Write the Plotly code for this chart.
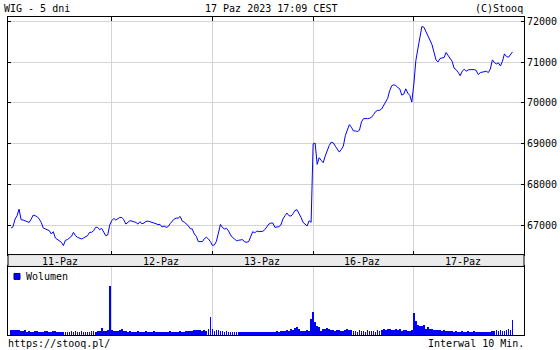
import plotly.graph_objects as go

# ---------------- data ----------------
days = ["11-Paz", "12-Paz", "13-Paz", "16-Paz", "17-Paz"]
y_ticks = [67000, 68000, 69000, 70000, 71000, 72000]

price_d1 = [66943, 66976, 67162, 67243, 67405, 67146, 67138, 67121, 67097, 67081,
            67162, 67259, 67243, 67219, 67162, 67081, 66943, 66927, 66911, 66879,
            66798, 66854, 66700, 66660, 66636, 66595, 66514, 66644, 66660, 66692,
            66741, 66838, 66757, 66717, 66692, 66676, 66700, 66725, 66757, 66838,
            66838, 66879, 66960, 66960, 66903, 66935, 66854, 66757, 66773, 67016]
price_d2 = [67121, 67178, 67138, 67162, 67202, 67202, 67146, 67040, 67081, 67121,
            67113, 67105, 67081, 67040, 67097, 67049, 67065, 67105, 67113, 67097,
            67081, 67081, 67049, 67024, 67032, 66968, 66992, 66960, 66976, 67049,
            67121, 67162, 67186, 67186, 67227, 67113, 67089, 67049, 67000, 66927,
            66919, 66798, 66741, 66611, 66611, 66611, 66684, 66717, 66676, 66611]
price_d3 = [66515, 66531, 66620, 66863, 67033, 66952, 66920, 66936, 66871, 66774,
            66709, 66677, 66628, 66644, 66660, 66660, 66604, 66596, 66612, 66758,
            66855, 66822, 66871, 66855, 66855, 66863, 66903, 66960, 67041, 67065,
            67065, 66960, 66976, 66976, 67017, 67163, 67244, 67309, 67244, 67236,
            67292, 67373, 67389, 67300, 67203, 67082, 67025, 66993, 67122, 67082]
price_d4 = [69002, 69018, 68500, 68662, 68597, 68540, 68703, 68840, 68962, 69043,
            69026, 68946, 68881, 68800, 68865, 68946, 69205, 69326, 69472, 69407,
            69318, 69318, 69302, 69334, 69537, 69618, 69610, 69618, 69626, 69650,
            69715, 69788, 69820, 69820, 69853, 69934, 69998, 70112, 70298, 70420,
            70444, 70428, 70379, 70347, 70193, 70217, 70347, 70242, 70185, 70023]
price_d5 = [70465, 71037, 71323, 71625, 71869, 71853, 71755, 71649, 71543, 71429,
            71241, 71053, 71004, 71086, 71102, 71110, 71233, 71159, 71102, 71020,
            70849, 70816, 70751, 70669, 70776, 70824, 70776, 70808, 70816, 70816,
            70816, 70792, 70694, 70743, 70751, 70751, 70776, 70743, 70833, 71053,
            70988, 70955, 70980, 70906, 71020, 71200, 71135, 71118, 71184, 71249]

vol_d1 = [5, 5, 5, 5, 5, 4, 4, 5, 3, 4, 3, 3, 4, 4, 3, 3, 3, 4, 4, 3, 3, 4, 4, 3, 3,
          3, 3, 3, 3, 3, 4, 3, 4, 3, 3, 4, 3, 3, 3, 3, 4, 4, 3, 4, 4, 7, 4, 4, 5, 49]
vol_d2 = [5, 4, 4, 4, 5, 6, 4, 4, 3, 4, 3, 3, 3, 4, 3, 3, 3, 4, 3, 3, 3, 4, 3, 3, 3,
          3, 3, 3, 3, 4, 3, 3, 3, 3, 4, 3, 3, 4, 4, 4, 4, 5, 5, 5, 5, 4, 5, 4, 6, 18]
vol_d3 = [6, 4, 5, 5, 4, 4, 3, 4, 3, 3, 3, 3, 3, 3, 3, 3, 3, 3, 3, 3, 3, 3, 3, 3, 3,
          3, 3, 3, 3, 3, 3, 3, 4, 3, 4, 4, 4, 5, 4, 6, 5, 7, 8, 6, 4, 4, 4, 5, 4, 16]
vol_d4 = [23, 13, 9, 8, 4, 6, 6, 7, 6, 5, 5, 4, 5, 5, 4, 4, 5, 6, 5, 5, 4, 4, 3, 5, 4,
          4, 3, 5, 4, 4, 4, 3, 5, 4, 5, 6, 5, 6, 6, 5, 5, 6, 5, 6, 4, 5, 5, 4, 4, 5]
vol_d5 = [22, 14, 10, 9, 9, 10, 6, 8, 6, 6, 5, 5, 5, 5, 4, 5, 4, 4, 4, 4, 3, 4, 3, 3, 4,
          3, 3, 4, 3, 3, 4, 3, 3, 3, 3, 3, 3, 3, 3, 4, 4, 5, 4, 5, 4, 4, 5, 6, 5, 15]

price = price_d1 + price_d2 + price_d3 + price_d4 + price_d5
volume = vol_d1 + vol_d2 + vol_d3 + vol_d4 + vol_d5
idx = list(range(len(price)))
per_day = len(price_d1)
day_starts = [per_day * k for k in range(1, len(days))]
day_centers = [per_day * k + (per_day - 1) / 2 for k in range(len(days))]

# ---------------- layout helpers ----------------
W, H = 560, 350
def px(x):
    return x / W
def py(y):
    return 1 - y / H

FONT = "DejaVu Sans Mono"
GRID = "#d4d4d4"
BLUE = "#0000ff"

fig = go.Figure()
fig.add_trace(go.Scatter(x=idx, y=price, mode="lines", line=dict(color=BLUE, width=1),
                         xaxis="x", yaxis="y", showlegend=False, hoverinfo="skip"))
fig.add_trace(go.Bar(x=idx, y=volume, width=0.4, marker=dict(color=BLUE, line_width=0),
                     xaxis="x2", yaxis="y2", showlegend=False, hoverinfo="skip"))

xdom = [px(8), px(524)]
xrange_ = [-1.5, 254.7]

fig.update_layout(
    width=W, height=H, autosize=False,
    margin=dict(l=0, r=0, t=0, b=0, pad=0),
    paper_bgcolor="white", plot_bgcolor="white",
    font=dict(family=FONT, size=10, color="black"),
    bargap=0.6,
    xaxis=dict(domain=xdom, range=xrange_, anchor="y", tickvals=day_starts,
               showticklabels=False, ticks="inside", ticklen=4, tickcolor="black",
               showline=True, linecolor="black", linewidth=1, mirror="ticks",
               showgrid=True, gridcolor=GRID, gridwidth=1, zeroline=False, fixedrange=True),
    yaxis=dict(domain=[py(254), py(15.5)], range=[66295, 72092], anchor="x", side="right",
               tickvals=y_ticks, ticktext=[str(v) for v in y_ticks],
               ticks="inside", ticklen=3, tickcolor="black",
               showline=True, linecolor="black", linewidth=1, mirror="ticks",
               showgrid=True, gridcolor=GRID, gridwidth=1, zeroline=False,
               tickfont=dict(family=FONT, size=10, color="black"), fixedrange=True),
    xaxis2=dict(domain=xdom, range=xrange_, anchor="y2", tickvals=day_starts,
                showticklabels=False, ticks="", showline=True, linecolor="black",
                linewidth=1, mirror=True, showgrid=True, gridcolor=GRID, gridwidth=1,
                zeroline=False, fixedrange=True),
    yaxis2=dict(domain=[py(335), py(266)], range=[0, 68.5], anchor="x2",
                showticklabels=False, ticks="", showline=True, linecolor="black",
                linewidth=1, mirror=True, showgrid=False, zeroline=False, fixedrange=True),
)

shapes = [
    dict(type="rect", xref="paper", yref="paper", x0=px(8), x1=px(524),
         y0=py(266), y1=py(254), fillcolor="#ebebeb", line=dict(color="black", width=1),
         layer="above"),
    dict(type="rect", xref="paper", yref="paper", x0=px(14), x1=px(20),
         y0=py(279), y1=py(273), fillcolor=BLUE, line=dict(color="#000080", width=1)),
]
fig.update_layout(shapes=shapes)

ann = []
for d, c in zip(days, day_centers):
    ann.append(dict(x=c, xref="x", y=py(260.5), yref="paper", text=d, showarrow=False,
                    xanchor="center", yanchor="middle", font=dict(family=FONT, size=10)))
ann += [
    dict(x=px(2), y=py(7), text="WIG - 5 dni", xanchor="left"),
    dict(x=px(271), y=py(7), text="17 Paz 2023 17:09 CEST", xanchor="center"),
    dict(x=px(525), y=py(7), text="(C)Stooq", xanchor="right"),
    dict(x=px(24), y=py(276), text="Wolumen", xanchor="left"),
    dict(x=px(6), y=py(343), text="https://stooq.pl/", xanchor="left"),
    dict(x=px(526), y=py(343), text="Interwal 10 Min.", xanchor="right"),
]
for a in ann[len(days):]:
    a.update(xref="paper", yref="paper", showarrow=False, yanchor="middle",
             font=dict(family=FONT, size=10, color="black"))
fig.update_layout(annotations=ann)

fig.write_html("out.html")
